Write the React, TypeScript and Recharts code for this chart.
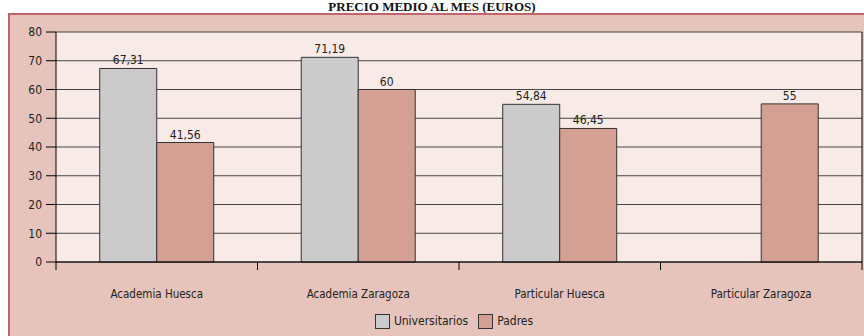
import { BarChart, Bar, XAxis, YAxis, CartesianGrid, LabelList, Legend } from 'recharts';

const CATEGORIES = ['Academia Huesca', 'Academia Zaragoza', 'Particular Huesca', 'Particular Zaragoza'];
const UNIVERSITARIOS = [67.31, 71.19, 54.84, null];
const PADRES = [41.56, 60, 46.45, 55];
const Y_TICKS = [0, 10, 20, 30, 40, 50, 60, 70, 80];

const SERIES = [
  { key: 'universitarios', name: 'Universitarios', color: '#CBCBCB' },
  { key: 'padres', name: 'Padres', color: '#D4A094' },
];

const FONT = "'DejaVu Sans Condensed', 'Liberation Sans Narrow', 'Open Sans', sans-serif";
const PLOT_BG = '#F8EAE6';
const PANEL_BG = '#E6C4BB';

const data = CATEGORIES.map((name, i) => ({
  name,
  universitarios: UNIVERSITARIOS[i],
  padres: PADRES[i],
}));

const fmt = (v: any) => (v == null ? '' : String(v).replace('.', ','));

const CategoryTick = (props: any) => {
  const { x, y, payload, index } = props;
  const half = payload?.offset ?? 100.75;
  return (
    <g>
      <line x1={x - half} x2={x - half} y1={y} y2={y + 8} stroke="#000" />
      {index === CATEGORIES.length - 1 && (
        <line x1={x + half} x2={x + half} y1={y} y2={y + 8} stroke="#000" />
      )}
      <text x={x} y={y + 36} textAnchor="middle" fontSize={11.5} fill="#222" fontFamily={FONT}>
        {payload.value}
      </text>
    </g>
  );
};

const LegendContent = () => (
  <div
    style={{
      display: 'flex',
      justifyContent: 'center',
      alignItems: 'center',
      height: 22,
      fontFamily: FONT,
      fontSize: 12,
      color: '#222',
    }}
  >
    {SERIES.map((s) => (
      <span key={s.key} style={{ display: 'flex', alignItems: 'center', marginRight: 10 }}>
        <span
          style={{
            display: 'inline-block',
            width: 13,
            height: 13,
            background: s.color,
            border: '1px solid #333',
            marginRight: 4,
          }}
        />
        {s.name}
      </span>
    ))}
  </div>
);

export default function App() {
  return (
    <div style={{ position: 'absolute', left: 0, top: 0, width: 864, height: 336, overflow: 'hidden', background: '#fff' }}>
      <div
        style={{
          position: 'absolute',
          left: 0,
          width: 864,
          top: 0,
          textAlign: 'center',
          fontFamily: "'Liberation Serif', serif",
          fontWeight: 'bold',
          fontSize: 13,
          lineHeight: '13px',
          color: '#111',
        }}
      >
        PRECIO MEDIO AL MES (EUROS)
      </div>
      <div
        style={{
          position: 'absolute',
          left: 8,
          top: 13,
          width: 880,
          height: 340,
          background: PANEL_BG,
          border: '2px solid #C2646C',
        }}
      />
      <div style={{ position: 'absolute', left: 0, top: 0 }}>
        <BarChart
          width={864}
          height={336}
          data={data}
          margin={{ top: 32, right: 0, left: 0, bottom: 4 }}
          barCategoryGap="21.7%"
          barGap={0}
        >
          <CartesianGrid vertical={false} stroke="#444" fill={PLOT_BG} fillOpacity={1} />
          <XAxis
            dataKey="name"
            height={48}
            interval={0}
            tickLine={false}
            tickSize={0}
            tickMargin={0}
            axisLine={{ stroke: '#000' }}
            tick={<CategoryTick />}
          />
          <XAxis xAxisId="top" orientation="top" dataKey="name" height={0} tick={false} tickLine={false} axisLine={{ stroke: '#000' }} />
          <YAxis
            width={56}
            domain={[0, 80]}
            ticks={Y_TICKS}
            interval={0}
            tickSize={10}
            tickMargin={4}
            tickLine={{ stroke: '#000' }}
            axisLine={{ stroke: '#000' }}
            tick={{ fill: '#222', fontSize: 12, fontFamily: FONT }}
          />
          <YAxis yAxisId="right" orientation="right" width={2} domain={[0, 80]} tick={false} tickLine={false} axisLine={{ stroke: '#000' }} />
          <Legend
            verticalAlign="bottom"
            content={<LegendContent />}
            wrapperStyle={{ left: 56, width: 806 }}
          />
          {SERIES.map((s) => (
            <Bar key={s.key} dataKey={s.key} name={s.name} fill={s.color} stroke="#333" strokeWidth={1} isAnimationActive={false}>
              <LabelList dataKey={s.key} position="top" offset={4} formatter={fmt} fill="#222" fontSize={12} fontFamily={FONT} />
            </Bar>
          ))}
        </BarChart>
      </div>
    </div>
  );
}
